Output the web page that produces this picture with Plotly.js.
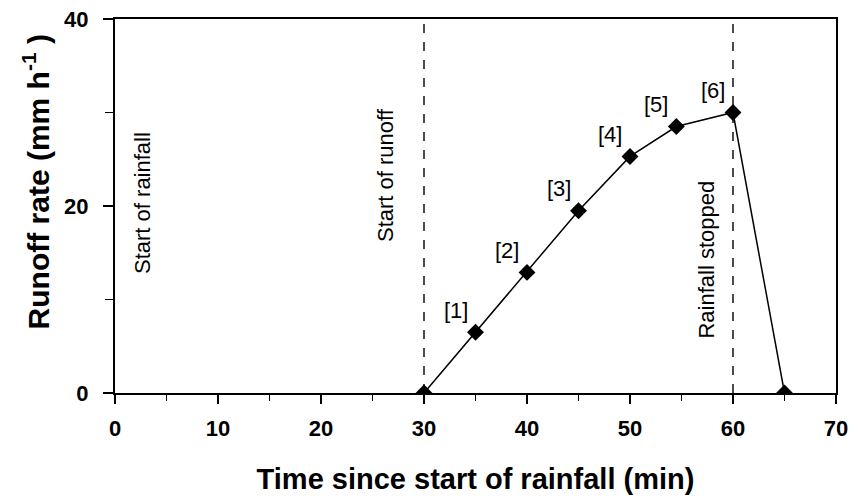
<!DOCTYPE html>
<html>
<head>
<meta charset="utf-8">
<script src="https://cdn.plot.ly/plotly-3.0.1.min.js"></script>
<style>html,body{margin:0;padding:0;background:#fff;}#chart{width:852px;height:501px;}</style>
</head>
<body>
<div id="chart"></div>
<script>
// Data
const timeMin = [30, 35, 40, 45, 50, 54.5, 60, 65];
const runoffRate = [0, 6.5, 12.9, 19.5, 25.3, 28.5, 30.0, 0];
const pointLabels = ["", "[1]", "[2]", "[3]", "[4]", "[5]", "[6]", ""];
const eventTimes = [30, 60];
const eventTexts = ["Start of rainfall", "Start of runoff", "Rainfall stopped"];
const eventTextX = [2.6, 26.2, 57.4];
const eventTextY = [20.3, 23.3, 14.3];
const xTicks = [0, 10, 20, 30, 40, 50, 60, 70];
const yTicks = [0, 20, 40];

const FONT = "Liberation Sans, Arial, sans-serif";

const trace = {
  x: timeMin,
  y: runoffRate,
  mode: "lines+markers",
  line: {color: "#000", width: 1.5},
  marker: {symbol: "diamond", size: 13, color: "#000"},
  hoverinfo: "x+y",
  showlegend: false
};

const shapes = eventTimes.map(t => ({
  type: "line", xref: "x", yref: "y",
  x0: t, x1: t, y0: 0, y1: 40,
  line: {color: "#000", width: 1.4, dash: "dash"}
}));

const annotations = [];
timeMin.forEach((t, i) => {
  if (pointLabels[i]) {
    annotations.push({
      x: t, y: runoffRate[i], xref: "x", yref: "y",
      text: pointLabels[i], showarrow: true, arrowcolor: "rgba(0,0,0,0)",
      ax: -20, ay: -22,
      font: {family: FONT, size: 22, color: "#000"}
    });
  }
});
eventTexts.forEach((s, i) => {
  annotations.push({
    x: eventTextX[i], y: eventTextY[i], xref: "x", yref: "y",
    text: s, showarrow: false, textangle: -90,
    font: {family: FONT, size: 22, color: "#000"}
  });
});
// y-axis title
annotations.push({
  x: -0.110, y: 0.565, xref: "paper", yref: "paper",
  xanchor: "center", yanchor: "middle",
  text: "<b>Runoff rate (mm h<sup>-1</sup> )</b>", showarrow: false, textangle: -90,
  font: {family: FONT, size: 30, color: "#000"}
});

const layout = {
  width: 852, height: 501,
  margin: {l: 115, r: 16, t: 19, b: 108},
  paper_bgcolor: "#fff", plot_bgcolor: "#fff",
  font: {family: FONT, color: "#000"},
  xaxis: {
    range: [0, 70], tickvals: xTicks, ticktext: xTicks.map(String),
    ticks: "outside", ticklen: 9, tickwidth: 1.5, tickcolor: "#000",
    ticklabelstandoff: 6,
    minor: {dtick: 5, tick0: 0, ticks: "outside", ticklen: 6, tickwidth: 1.5, tickcolor: "#000"},
    showline: true, linecolor: "#000", linewidth: 2, mirror: true,
    showgrid: false, zeroline: false,
    tickfont: {family: FONT, size: 22, color: "#000", weight: "bold"},
    title: {text: "<b>Time since start of rainfall (min)</b>", font: {family: FONT, size: 29, color: "#000"}, standoff: 28}
  },
  yaxis: {
    range: [0, 40], tickvals: yTicks, ticktext: yTicks.map(String),
    ticks: "outside", ticklen: 10, tickwidth: 1.5, tickcolor: "#000",
    ticklabelstandoff: 10,
    minor: {dtick: 10, tick0: 0, ticks: "outside", ticklen: 8, tickwidth: 1.5, tickcolor: "#000"},
    showline: true, linecolor: "#000", linewidth: 2, mirror: true,
    showgrid: false, zeroline: false,
    tickfont: {family: FONT, size: 22, color: "#000", weight: "bold"}
  },
  shapes: shapes,
  annotations: annotations
};

Plotly.newPlot("chart", [trace], layout, {displayModeBar: false, staticPlot: true});
</script>
</body>
</html>
